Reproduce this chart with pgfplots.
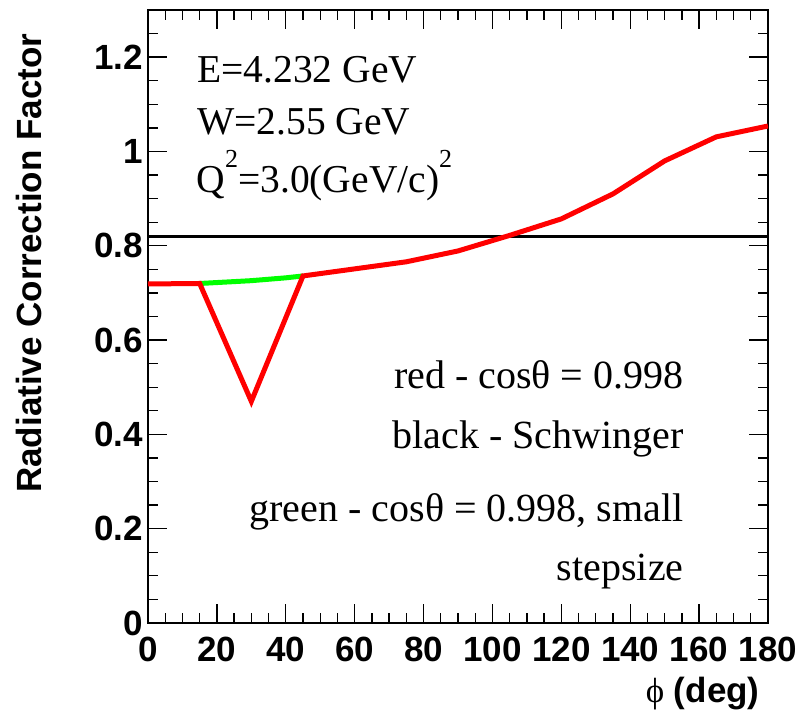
\documentclass[border=0pt]{standalone}
\usepackage{pgfplots}
\pgfplotsset{compat=1.18}
\usepackage{fontspec}
\setmainfont{Liberation Serif}
\setsansfont{Liberation Sans}
\begin{document}
\begin{tikzpicture}
\begin{axis}[
  at={(0,0)}, anchor=south west,
  scale only axis, width=620pt, height=613pt,
  clip mode=individual,
  xmin=0, xmax=180, ymin=0, ymax=1.3,
  xtick={0,20,40,60,80,100,120,140,160,180},
  minor xtick={5,10,15,25,30,35,45,50,55,65,70,75,85,90,95,105,110,115,125,130,135,145,150,155,165,170,175},
  ytick={0,0.2,0.4,0.6,0.8,1,1.2},
  minor ytick={0.05,0.1,0.15,0.25,0.3,0.35,0.45,0.5,0.55,0.65,0.7,0.75,0.85,0.9,0.95,1.05,1.1,1.15,1.25},
  tick align=inside,
  major tick length=19pt, minor tick length=10pt,
  tick style={black, line width=1.3pt},
  axis line style={line width=2.6pt},
  /pgf/number format/assume math mode=true,
  ticklabel style={font=\fontsize{35}{35}\selectfont\sffamily\bfseries},
  yticklabel style={inner sep=0pt, xshift=-5pt},
  xticklabel style={inner sep=0pt, yshift=-14pt},
]
% Schwinger
\addplot[black, line width=3pt] coordinates {(0,0.819) (180,0.819)};
% green: small stepsize
\addplot[color={rgb,255:red,0;green,255;blue,0}, line width=5pt] coordinates {
(15,0.720) (20,0.722) (25,0.724) (30,0.726) (35,0.729) (40,0.732) (45,0.736)};
% red
\addplot[color={rgb,255:red,255;green,0;blue,0}, line width=5pt] coordinates {
(0,0.719) (15,0.720) (30,0.470) (45,0.736) (60,0.751) (75,0.766) (90,0.789)
(105,0.822) (120,0.857) (135,0.910) (150,0.980) (165,1.031) (180,1.054)};

\node[anchor=base west, font=\fontsize{39.5}{39.5}\selectfont] at (axis cs:13.3,1.147) {E=4.232 GeV};
\node[anchor=base west, font=\fontsize{39.5}{39.5}\selectfont] at (axis cs:13.3,1.035) {W=2.55 GeV};
\node[anchor=base west, font=\fontsize{39.5}{39.5}\selectfont] at (axis cs:13.1,0.914) {Q\raisebox{25pt}{\fontsize{26}{26}\selectfont 2}=3.0(GeV/c)\raisebox{25pt}{\fontsize{26}{26}\selectfont 2}};

\node[anchor=base east, font=\fontsize{40}{40}\selectfont] at (axis cs:156.5,0.498) {red - cosθ = 0.998};
\node[anchor=base east, font=\fontsize{40}{40}\selectfont] at (axis cs:156.5,0.371) {black - Schwinger};
\node[anchor=base east, font=\fontsize{40}{40}\selectfont] at (axis cs:156.5,0.216) {green - cosθ = 0.998, small};
\node[anchor=base east, font=\fontsize{40}{40}\selectfont] at (axis cs:156.5,0.091) {stepsize};

\node[rotate=90, anchor=base east, font=\fontsize{35}{35}\selectfont\sffamily\bfseries] at (axis description cs:-0.171,0.967) {Radiative Correction Factor};
\node[anchor=base east, font=\fontsize{35}{35}\selectfont\sffamily\bfseries] at (axis description cs:0.992,-0.1305) {{\rmfamily\mdseries ϕ} (deg)};
\end{axis}
\pgfresetboundingbox
\path[use as bounding box] (-148pt,-97pt) rectangle (657pt,623pt);
\end{tikzpicture}
\end{document}
